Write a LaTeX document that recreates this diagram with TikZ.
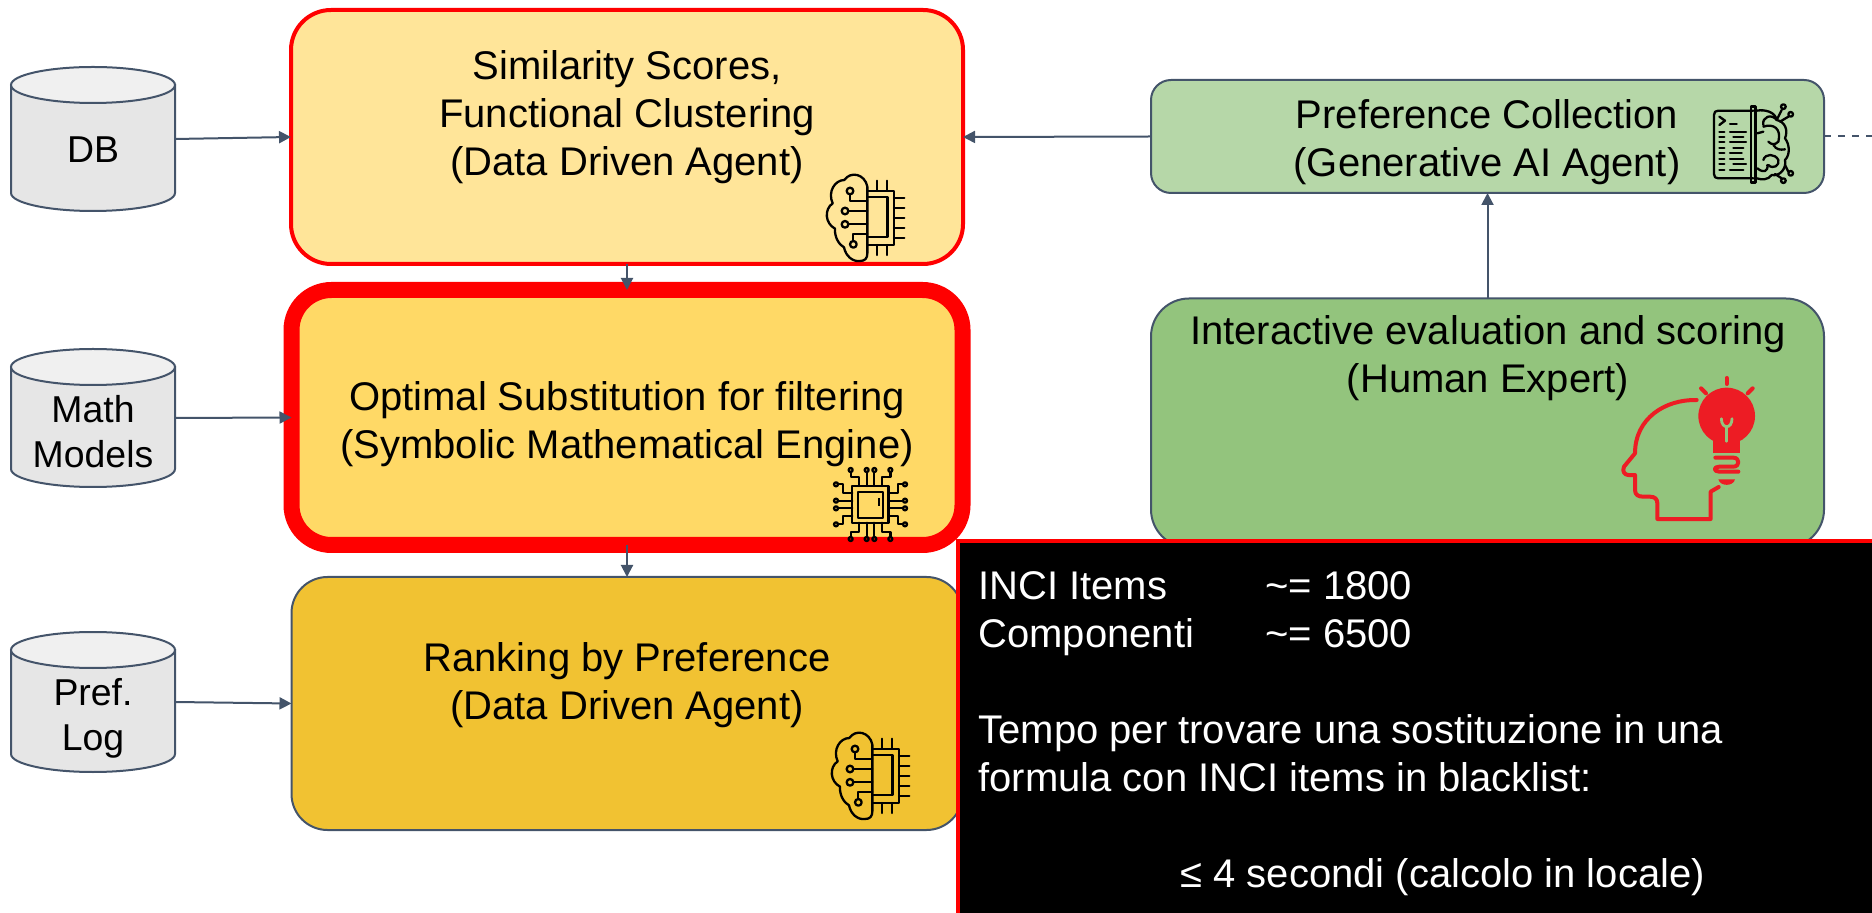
\documentclass[tikz,border=0pt]{standalone}
\usepackage{fontspec}
\setmainfont{Liberation Sans}
\usetikzlibrary{arrows.meta}
\definecolor{slate}{HTML}{44546A}
\definecolor{iconred}{HTML}{ED1C24}
\definecolor{greenB}{HTML}{93C47D}
\definecolor{cylbody}{HTML}{E6E6E6}
\definecolor{cyltop}{HTML}{F0F0F0}
\newcommand{\drumshape}[1]{%
  \path[draw=slate,line width=1pt,fill=cylbody]
    ([yshift=-9pt]#1.north west) -- ([yshift=9pt]#1.south west)
    arc[start angle=180,end angle=0,x radius=82,y radius=18]
    -- ([yshift=-9pt]#1.north east) -- cycle;
  \path[draw=slate,line width=1pt,fill=cyltop]
    ([yshift=-9pt]#1.north) ellipse[x radius=82,y radius=18];
}
\tikzset{
  txt/.style={font=\fontsize{20pt}{24pt}\selectfont,align=center,inner sep=0pt,text=black},
  cyltxt/.style={font=\fontsize{18.7pt}{22.4pt}\selectfont,align=center,inner sep=0pt,text=black},
  flowbox/.style={rectangle,rounded corners=#1,draw=slate,line width=1pt,outer sep=0pt,inner sep=0pt},
  conn/.style={draw=slate,line width=1pt,-{Triangle[length=6pt,width=6pt]}},
  dbanchor/.style={rectangle,outer sep=0pt,inner sep=0pt,minimum width=82pt,minimum height=#1},
  zoomed/.style={x=0.16667pt,y=-0.16667pt},
  iconline/.style={draw=black,line width=1.15pt,line join=round,line cap=round},
  pics/braincore/.style={code={
    \begin{scope}[zoomed]
      \draw[iconline] (262,110) .. controls (255,72) and (212,62) .. (193,90)
        .. controls (165,90) and (142,125) .. (158,160)
        .. controls (132,178) and (135,220) .. (165,236)
        .. controls (163,262) and (178,285) .. (192,292)
        .. controls (197,318) and (218,336) .. (240,333)
        .. controls (255,333) and (262,325) .. (262,310) -- cycle;
      \draw[iconline] (262,122) -- (342,122) -- (342,285) -- (262,285);
      \draw[iconline] (262,142) -- (322,142) -- (322,262) -- (262,262);
      \foreach \py in {143,173,203,233,263} \draw[iconline] (342,\py) -- (373,\py);
      \foreach \px in {290,320} {\draw[iconline] (\px,92) -- (\px,122); \draw[iconline] (\px,285) -- (\px,315);}
      \draw[iconline] (210,123) circle[radius=10];
      \draw[iconline] (195,183) circle[radius=10];
      \draw[iconline] (195,223) circle[radius=10];
      \draw[iconline] (220,283) circle[radius=10];
      \draw[iconline] (210,133) -- (210,153) -- (262,153);
      \draw[iconline] (205,183) -- (262,183);
      \draw[iconline] (205,223) -- (262,223);
      \draw[iconline] (220,273) -- (220,252) -- (262,252);
    \end{scope}
  }},
}
\begin{document}
\begin{tikzpicture}[x=0.5pt,y=-0.5pt]
\useasboundingbox (0,0) rectangle (1872,913);

% data stores
\node[dbanchor=72pt] (db) at (93,139) {};
\node[dbanchor=69pt] (math) at (93,418) {};
\node[dbanchor=70pt] (pref) at (93,702) {};
\drumshape{db}
\drumshape{math}
\drumshape{pref}
\node[cyltxt] (dbt) at (93,150) {DB};
\node[cyltxt] (matht) at (93,432) {Math\\Models};
\node[cyltxt] (preft) at (93,718) {Pref.\\Log};

% main boxes
\node[flowbox=20pt,draw=red,line width=2pt,fill={rgb,255:red,255;green,229;blue,153},minimum width=336pt,minimum height=127pt] (box1) at (627,137) {};
\node[flowbox=20pt,draw=red,line width=8pt,fill={rgb,255:red,255;green,217;blue,102},minimum width=335.5pt,minimum height=127.5pt] (box2) at (627,417.5) {};
\node[flowbox=18pt,fill={rgb,255:red,241;green,194;blue,50},minimum width=335.5pt,minimum height=126.5pt] (box3) at (627,703.5) {};
\node[flowbox=10pt,fill={rgb,255:red,182;green,215;blue,168},minimum width=336.5pt,minimum height=56.5pt] (green1) at (1487.5,136.5) {};
\node[flowbox=19pt,fill=greenB,minimum width=336.5pt,minimum height=124.5pt] (green2) at (1487.5,423) {};

\node[txt] (box1t) at (627,117.5) {Similarity Scores,\\Functional Clustering\\(Data Driven Agent)};
\node[txt] (box2t) at (627,424) {Optimal Substitution for filtering\\(Symbolic Mathematical Engine)};
\node[txt] (box3t) at (627,685) {Ranking by Preference\\(Data Driven Agent)};
\node[txt] (green1t) at (1487,142.5) {Preference Collection\\(Generative AI Agent)};
\node[txt] (green2t) at (1488,358) {Interactive evaluation and scoring\\(Human Expert)};

% connectors
\coordinate (stub) at (1872,136.5);
\draw[conn] (db.east) -- (box1.west);
\draw[conn] (math.east) -- (box2.west);
\draw[conn] (pref.east) -- (box3.west);
\draw[conn] (box1.south) -- (box2.north);
\draw[conn] (box2.south) -- (box3.north);
\draw[conn] (green1.west) -- (box1.east);
\draw[conn] (green2.north) -- (green1.south);
\draw[draw=slate,line width=1pt,dash pattern=on 3.5pt off 3.5pt] (green1.east) -- (stub);

% icons
\pic at (780,150) {braincore};
\pic at (785,708) {braincore};

% chip
\begin{scope}[shift={(810,450)},zoomed]
  \draw[iconline] (127,108) rectangle (235,218);
  \draw[iconline] (143,125) rectangle (220,203);
  \draw[iconline,line width=0.9pt,line cap=butt] (207,145) -- (207,167);
  \foreach \p in {170,193} {\draw[iconline] (\p,66) -- (\p,108); \draw[iconline] (\p,218) -- (\p,260);}
  \foreach \p in {152,175} {\draw[iconline] (84,\p) -- (127,\p); \draw[iconline] (235,\p) -- (279,\p);}
  \draw[iconline] (122,66) -- (122,80) -- (148,80) -- (148,108);
  \draw[iconline] (241,66) -- (241,80) -- (215,80) -- (215,108);
  \draw[iconline] (122,261) -- (122,245) -- (148,245) -- (148,218);
  \draw[iconline] (241,261) -- (241,245) -- (215,245) -- (215,218);
  \draw[iconline] (84,103) -- (100,103) -- (100,128) -- (127,128);
  \draw[iconline] (84,223) -- (100,223) -- (100,198) -- (127,198);
  \draw[iconline] (279,103) -- (263,103) -- (263,128) -- (235,128);
  \draw[iconline] (279,223) -- (263,223) -- (263,198) -- (235,198);
  \foreach \p in {122,170,193,241} {\draw[iconline] (\p,60) circle[radius=6]; \draw[iconline] (\p,267) circle[radius=6];}
  \foreach \p in {103,152,175,223} {\draw[iconline] (78,\p) circle[radius=6]; \draw[iconline] (285,\p) circle[radius=6];}
\end{scope}

% document-brain
\begin{scope}[shift={(1680,70)},zoomed]
  \draw[iconline] (220,122) -- (115,122) .. controls (106,122) and (102,126) .. (102,135) -- (102,312) .. controls (102,321) and (106,325) .. (115,325) -- (220,325);
  \draw[iconline,line width=1.2pt] (213,110) rectangle (227,338);
  \draw[iconline] (118,140) -- (135,152) -- (118,165);
  \draw[iconline] (150,163) -- (170,163);
  \foreach \y/\a/\b in {185/150/198,200/160/190,217/150/198,235/160/190,250/150/185,267/150/190,283/160/198,300/150/190}
    {\draw[iconline] (118,\y) -- (133,\y); \draw[iconline] (\a,\y) -- (\b,\y);}
  \draw[iconline] (230,122) .. controls (255,118) and (285,125) .. (290,150)
     .. controls (315,155) and (325,180) .. (315,205)
     .. controls (330,225) and (330,255) .. (315,270)
     .. controls (320,295) and (300,320) .. (275,315)
     .. controls (265,330) and (245,330) .. (230,325);
  \draw[iconline] (250,165) .. controls (245,140) and (275,130) .. (290,150);
  \draw[iconline] (250,170) .. controls (280,160) and (305,175) .. (295,215) .. controls (285,225) and (275,225) .. (265,215);
  \draw[iconline] (232,190) -- (250,185);
  \draw[iconline] (280,225) .. controls (290,240) and (300,240) .. (315,238);
  \draw[iconline] (250,270) .. controls (255,250) and (285,250) .. (295,270) .. controls (300,285) and (280,300) .. (265,285);
  \draw[iconline] (232,295) .. controls (250,310) and (265,305) .. (262,285);
  \draw[iconline] (290,150) -- (305,120);
  \draw[iconline] (300,155) -- (325,140);
  \draw[iconline] (315,285) -- (325,305);
  \draw[iconline] (285,312) -- (305,325);
  \draw[iconline] (310,110) circle[radius=7];
  \draw[iconline] (332,133) circle[radius=7];
  \draw[iconline] (332,310) circle[radius=7];
  \draw[iconline] (310,332) circle[radius=7];
\end{scope}

% head and bulb
\begin{scope}[shift={(1600,370)},zoomed]
  \draw[draw=iconred,line width=2pt,line join=round,line cap=round]
    (290,90) .. controls (195,88) and (105,145) .. (105,250) -- (72,290)
    .. controls (65,305) and (75,315) .. (85,315) -- (105,315) -- (105,360)
    .. controls (105,375) and (115,380) .. (130,380) -- (150,380)
    .. controls (165,380) and (172,388) .. (172,400) -- (172,447) -- (332,447) -- (332,365) -- (356,351);
  \fill[iconred] (380,138) circle[radius=85];
  \fill[iconred] (340,190) -- (420,190) -- (420,250) -- (340,250) -- cycle;
  \draw[greenB,line width=1.4pt,line cap=round] (380,214) -- (380,170);
  \draw[greenB,line width=1.4pt,line cap=round] (364,146) .. controls (364,162) and (372,170) .. (380,170) .. controls (388,170) and (396,162) .. (396,146);
  \draw[iconred,line width=2pt,line cap=round,line join=round] (346,263) -- (400,263) .. controls (420,263) and (420,290) .. (400,290) -- (358,290) .. controls (340,290) and (340,305) .. (358,305) -- (415,305);
  \fill[iconred] (355,328) -- (405,328) .. controls (400,350) and (360,350) .. (355,328) -- cycle;
  \draw[iconred,line width=2pt,line cap=round] (303,55) -- (318,70);
  \draw[iconred,line width=2pt,line cap=round] (380,24) -- (380,42);
  \draw[iconred,line width=2pt,line cap=round] (458,55) -- (443,70);
\end{scope}

% black panel
\node[rectangle,draw=red,line width=2pt,fill=black,outer sep=0pt,inner sep=0pt,minimum width=458pt,minimum height=187pt] (panel) at (1416,728) {};
\node[txt,text=white,align=left,anchor=north west] (panelt) at (978,571) {\makebox[143.5pt][l]{INCI Items}\textasciitilde= 1800\\
\makebox[143.5pt][l]{Componenti}\textasciitilde= 6500\\
\mbox{}\\
Tempo per trovare una sostituzione in una\\
formula con INCI items in blacklist:\\
\mbox{}\\
\hspace{101pt}≤ 4 secondi (calcolo in locale)};
\end{tikzpicture}
\end{document}
